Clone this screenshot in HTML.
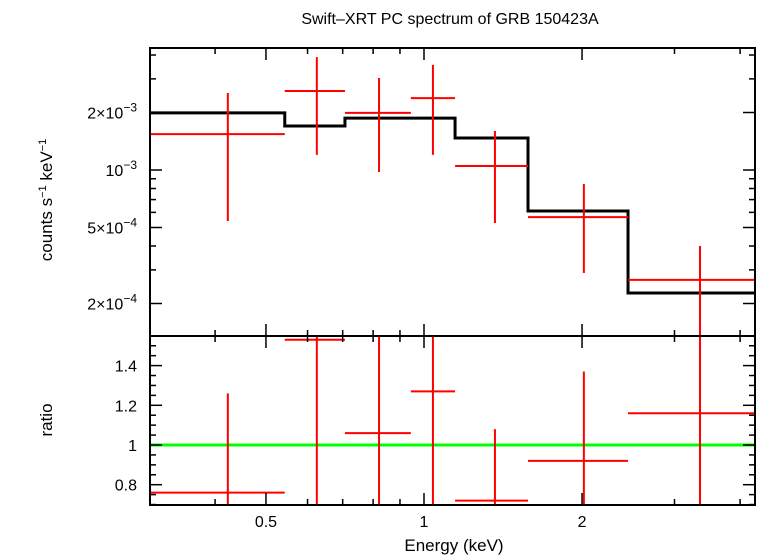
<!DOCTYPE html>
<html><head><meta charset="utf-8"><style>
body{margin:0;background:#fff;}
svg{display:block;font-family:"Liberation Sans",sans-serif;}
</style></head><body>
<svg id="c" width="758" height="556" viewBox="0 0 758 556">
<text x="450" y="24" font-size="16" text-anchor="middle">Swift–XRT PC spectrum of GRB 150423A</text>
<g id="g"></g>
</svg>
<script>
const binLo=[0.300,0.543,0.707,0.944,1.146,1.578,2.447];
const binHi=[0.543,0.707,0.944,1.146,1.578,2.447,4.27];
const binCenter=[0.423,0.625,0.821,1.040,1.365,2.016,3.355];
const rate=[1.54e-3,2.59e-3,1.99e-3,2.38e-3,1.05e-3,0.567e-3,0.266e-3];
const rateLo=[0.541e-3,1.20e-3,0.976e-3,1.20e-3,0.528e-3,0.289e-3,0.10e-3];
const rateHi=[2.53e-3,3.90e-3,3.03e-3,3.55e-3,1.60e-3,0.845e-3,0.400e-3];
const modelLo=[0.300,0.543,0.707,1.146,1.578,2.447];
const modelHi=[0.543,0.707,1.146,1.578,2.447,4.27];
const model=[1.99e-3,1.70e-3,1.87e-3,1.47e-3,0.61e-3,0.227e-3];
const ratio=[0.76,1.53,1.06,1.27,0.72,0.92,1.16];
const ratioLo=[0.6,0.6,0.6,0.6,0.6,0.6,0.6];
const ratioHi=[1.26,1.7,1.7,1.7,1.08,1.37,1.7];
const xTicks=[0.5,1,2];
const yTopTicks=[2e-3,1e-3,5e-4,2e-4];
const yTopLabels=["2×10","10","5×10","2×10"];
const yTopExp=["−3","−3","−4","−4"];
const ratioTicks=[0.8,1,1.2,1.4];

const L=150,R=755,T=48,M=336,B=505;
const xs=e=>424+525*Math.log10(e);
const yt=v=>170-191*Math.log10(v/1e-3);
const yr=r=>445-(r-1)*198.5;
const g=document.getElementById('g');
const NS='http://www.w3.org/2000/svg';
function el(t,a,name,parent){const e=document.createElementNS(NS,t);for(const k in a)e.setAttribute(k,a[k]);


(parent||g).appendChild(e);return e;}
function ln(x1,y1,x2,y2,c,w,name,p){return el('line',{x1,y1,x2,y2,stroke:c,'stroke-width':w},name,p);}
const defs=el('defs',{},'defs');
const cp1=el('clipPath',{id:'ct'},'clip-top',defs);el('rect',{x:L,y:T,width:R-L,height:M-T},'clip-rect',cp1);
const cp2=el('clipPath',{id:'cb'},'clip-bottom',defs);el('rect',{x:L,y:M,width:R-L,height:B-M},'clip-rect',cp2);
const topPanel=el('g',{'clip-path':'url(#ct)'},'top-panel-plot');
const botPanel=el('g',{'clip-path':'url(#cb)'},'ratio-panel-plot');
let d='';
model.forEach((v,i)=>{d+=(i?'L':'M')+xs(modelLo[i])+','+yt(v)+'L'+xs(modelHi[i])+','+yt(v);});
el('path',{d,fill:'none',stroke:'#000','stroke-width':3},'model-line',topPanel);
rate.forEach((v,i)=>{
 ln(xs(binLo[i]),yt(v),xs(binHi[i]),yt(v),'#f00',2,'data-xerr',topPanel);
 ln(xs(binCenter[i]),yt(rateLo[i]),xs(binCenter[i]),yt(rateHi[i]),'#f00',2,'data-yerr',topPanel);
});
ln(L,yr(1),R,yr(1),'#0f0',3,'unity-line',botPanel);
ratio.forEach((v,i)=>{
 ln(xs(binLo[i]),yr(v),xs(binHi[i]),yr(v),'#f00',2,'ratio-xerr',botPanel);
 ln(xs(binCenter[i]),yr(ratioLo[i]),xs(binCenter[i]),yr(ratioHi[i]),'#f00',2,'ratio-yerr',botPanel);
});
el('rect',{x:L,y:T,width:R-L,height:B-T,fill:'none',stroke:'#000','stroke-width':2},'frame');
ln(L,M,R,M,'#000',2,'panel-divider');
for(let dec=0.1;dec<10;dec*=10)for(let k=1;k<10;k++){const e=dec*k;const x=xs(e);if(x<L||x>R)continue;
 const major=xTicks.some(t=>Math.abs(t-e)<1e-6);const len=major?12:6;
 [T,M].forEach(y=>ln(x,y,x,y+len,'#000',1.5,'x-tick'));
 [M,B].forEach(y=>ln(x,y,x,y-len,'#000',1.5,'x-tick'));}
xTicks.forEach(t=>{const tx=el('text',{x:xs(t),y:527,'font-size':16,'text-anchor':'middle'},'x-tick-label');tx.textContent=t;});
const xl=el('text',{x:454,y:551,'font-size':17,'text-anchor':'middle'},'x-axis-title');xl.textContent='Energy (keV)';
for(let dec=1e-4;dec<1e-2;dec*=10)for(let k=1;k<10;k++){const v=dec*k;const y=yt(v);if(y<T||y>M)continue;
 const major=(k==1||k==2||k==5);const len=major?12:6;
 ln(L,y,L+len,y,'#000',1.5,'y-tick');ln(R,y,R-len,y,'#000',1.5,'y-tick');}
yTopTicks.forEach((v,i)=>{const tx=el('text',{x:137,y:yt(v)+6,'font-size':16,'text-anchor':'end'},'y-tick-label');
 tx.innerHTML=yTopLabels[i]+'<tspan dy="-7" font-size="12">'+yTopExp[i]+'</tspan>';});
const yl=el('text',{x:0,y:0,'font-size':17,'text-anchor':'middle',transform:'translate(52,200) rotate(-90)'},'y-axis-title');
yl.innerHTML='counts s<tspan dy="-6" font-size="11">−1</tspan><tspan dy="6"> keV</tspan><tspan dy="-6" font-size="11">−1</tspan>';
for(let r=0.7;r<1.56;r+=0.05){const y=yr(r);const major=Math.abs(r*10-Math.round(r*10))<1e-6&&Math.round(r*10)%2==0;const len=major?12:6;
 ln(L,y,L+len,y,'#000',1.5,'ratio-tick');ln(R,y,R-len,y,'#000',1.5,'ratio-tick');}
ratioTicks.forEach(v=>{const tx=el('text',{x:137,y:yr(v)+6,'font-size':16,'text-anchor':'end'},'ratio-tick-label');tx.textContent=v;});
const rl=el('text',{x:0,y:0,'font-size':17,'text-anchor':'middle',transform:'translate(52,420) rotate(-90)'},'ratio-axis-title');rl.textContent='ratio';
</script>
</body></html>
